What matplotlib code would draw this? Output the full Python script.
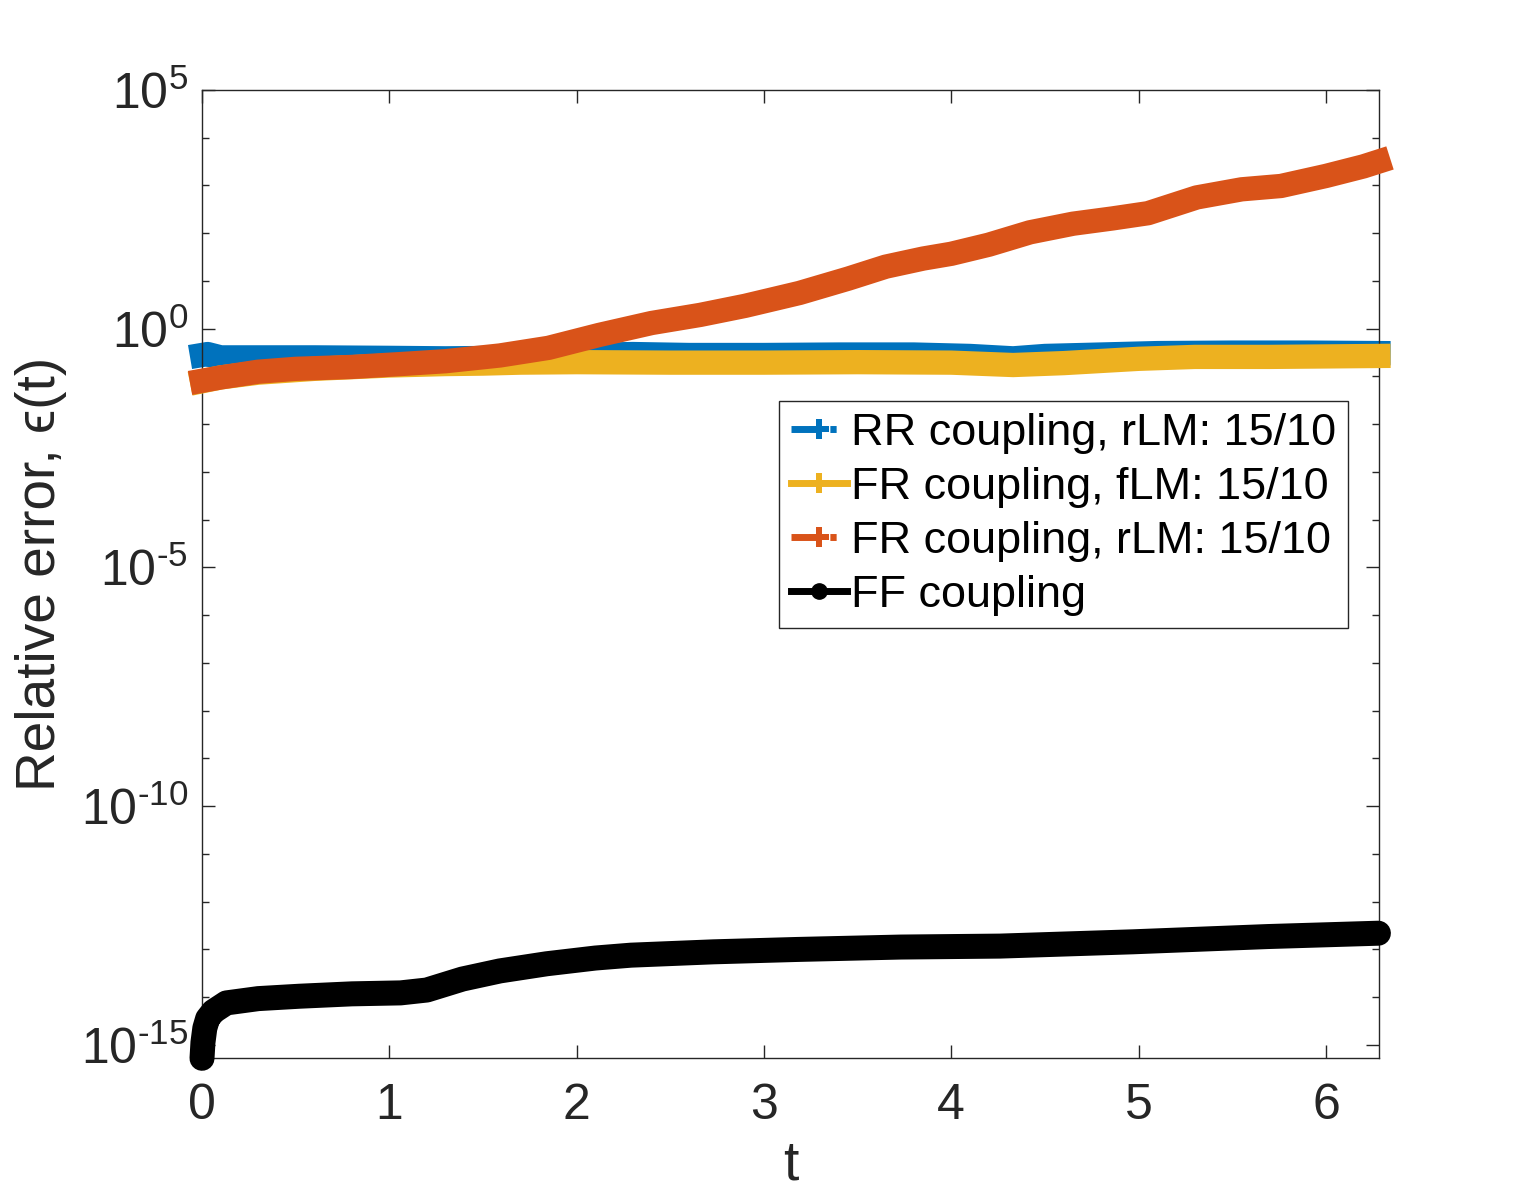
import numpy as np
import matplotlib
matplotlib.use("Agg")
import matplotlib.pyplot as plt
from matplotlib.lines import Line2D

# values (log10 of relative error)
rr_t = [0, 0.03, 0.1, 0.3, 0.6, 1.0, 1.3, 1.6, 2.0, 2.3, 2.6, 3.0, 3.4, 3.8, 4.1,
        4.33, 4.5, 4.8, 5.1, 5.5, 5.9, 6.28]
rr_log = [-0.55, -0.53, -0.6, -0.6, -0.6, -0.61, -0.62, -0.61, -0.55, -0.53,
          -0.55, -0.55, -0.54, -0.54, -0.57, -0.62, -0.57, -0.54, -0.51, -0.5,
          -0.5, -0.51]

frf_t = [0, 0.1, 0.3, 0.6, 1.0, 1.3, 1.5, 1.7, 2.0, 2.5, 3.0, 3.5, 4.0, 4.33,
         4.6, 5.0, 5.3, 5.7, 6.0, 6.28]
frf_log = [-1.1, -1.02, -0.92, -0.84, -0.77, -0.74, -0.73, -0.71, -0.7, -0.71,
           -0.71, -0.7, -0.71, -0.76, -0.72, -0.63, -0.59, -0.59, -0.58, -0.57]

frr_t = [0, 0.1, 0.3, 0.5, 0.8, 1.06, 1.3, 1.59, 1.85, 2.12, 2.4, 2.66, 2.9,
         3.19, 3.45, 3.65, 3.85, 4.0, 4.2, 4.42, 4.65, 4.86, 5.05, 5.31, 5.55,
         5.76, 6.0, 6.2, 6.28]
frr_log = [-1.09, -1.02, -0.9, -0.84, -0.8, -0.74, -0.68, -0.56, -0.4, -0.13,
           0.12, 0.29, 0.48, 0.75, 1.05, 1.3, 1.47, 1.57, 1.76, 2.02, 2.2, 2.31,
           2.42, 2.75, 2.92, 2.99, 3.2, 3.4, 3.5]

ff_t = [0, 0.005, 0.015, 0.03, 0.06, 0.13, 0.3, 0.52, 0.8, 1.06, 1.2, 1.39,
        1.59, 1.84, 2.1, 2.29, 2.73, 3.18, 3.73, 4.26, 4.97, 5.69, 6.28]
ff_log = [-15.28, -14.95, -14.65, -14.45, -14.3, -14.12, -14.03, -13.98, -13.93,
          -13.91, -13.85, -13.62, -13.45, -13.3, -13.18, -13.12, -13.05, -13.0,
          -12.95, -12.93, -12.84, -12.73, -12.66]

labels = ["RR coupling, rLM: 15/10", "FR coupling, fLM: 15/10",
          "FR coupling, rLM: 15/10", "FF coupling"]
colors = ["#0072BD", "#EDB120", "#D95319", "black"]
ytick_exp = ["-15", "-10", "-5", "0", "5"]

plt.rcParams['font.family'] = ['Liberation Sans', 'DejaVu Sans']
plt.rcParams['mathtext.fontset'] = 'custom'
plt.rcParams['mathtext.rm'] = 'Liberation Sans'
plt.rcParams['mathtext.it'] = 'Liberation Sans:italic'
axcol = "#262626"

fig = plt.figure(figsize=(15.24, 11.98), dpi=100)
ax = fig.add_axes([0.13255, 0.11661, 0.77231, 0.80826])

series = [(rr_t, rr_log), (frf_t, frf_log), (frr_t, frr_log), (ff_t, ff_log)]
for i, (t, lg) in enumerate(series):
    y = 10.0 ** np.array(lg)
    ax.semilogy(t, y, color=colors[i], lw=17.5 if i < 3 else 18,
                solid_capstyle='projecting' if i < 3 else 'round',
                solid_joinstyle='round', clip_on=False, zorder=2 + i)

ax.set_xlim(0, 2 * np.pi)
ax.set_ylim(10 ** -15.28, 1e5)
ax.set_xticks([0, 1, 2, 3, 4, 5, 6])
ax.set_yticks([1e-15, 1e-10, 1e-5, 1e0, 1e5])
ax.set_yticklabels([r'$\mathdefault{10^{\text{%s}}}$' % e for e in ytick_exp])
ax.set_yticks([10.0 ** k for k in range(-15, 6) if k % 5 != 0], minor=True)
ax.yaxis.set_minor_formatter(matplotlib.ticker.NullFormatter())
ax.tick_params(which='both', direction='in', top=True, right=True,
               colors=axcol, labelsize=36, width=1.0)
ax.tick_params(which='major', length=9.5)
ax.tick_params(which='minor', length=5)
ax.tick_params(axis='x', pad=17.5)
ax.tick_params(axis='y', pad=10)
for s in ax.spines.values():
    s.set_color(axcol)
    s.set_linewidth(1.0)

ax.set_xlabel('t', fontsize=39.6, color=axcol, labelpad=8)
ax.set_ylabel('Relative error, \u03f5(t)', fontsize=39.6, color=axcol,
              labelpad=10)

dashdot = (0, (4.3, 1.3, 0.9, 5))
handles = [
    Line2D([], [], color=colors[0], ls=dashdot, lw=5, marker='P', ms=14,
           mew=0, dash_capstyle='butt'),
    Line2D([], [], color=colors[1], ls='-', lw=5, marker='P', ms=14, mew=0),
    Line2D([], [], color=colors[2], ls=dashdot, lw=5, marker='P', ms=14,
           mew=0, dash_capstyle='butt'),
    Line2D([], [], color=colors[3], ls='-', lw=5, marker='o', ms=11),
]
leg = fig.legend(handles, labels, loc='upper left',
                 bbox_to_anchor=(779 / 1524, 1 - 401 / 1198),
                 fontsize=32.4, frameon=True, fancybox=False, framealpha=1,
                 edgecolor=axcol, borderpad=0.26, labelspacing=0.29,
                 handlelength=1.25, handletextpad=0.1, borderaxespad=0)
leg.get_frame().set_linewidth(1.0)

fig.savefig('out.png', dpi=100)
